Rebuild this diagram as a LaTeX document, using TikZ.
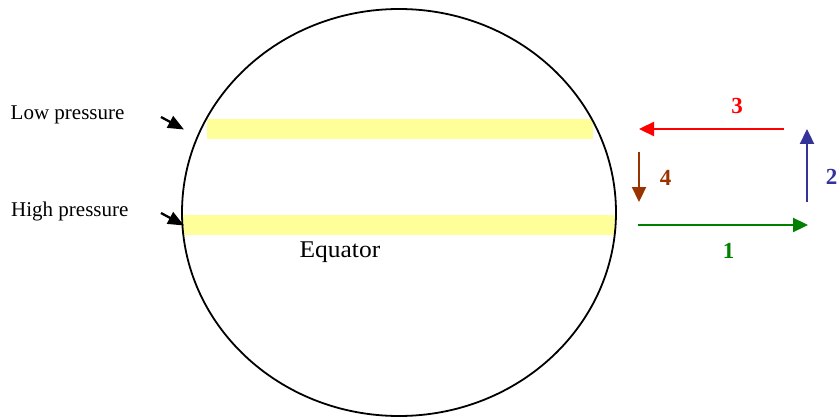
\documentclass[tikz,border=0pt]{standalone}
\usepackage{fontspec}
\setmainfont{Liberation Serif}
\usetikzlibrary{arrows.meta,shapes.geometric}
\definecolor{bandyellow}{RGB}{255,255,153}
\definecolor{cred}{RGB}{255,0,0}
\definecolor{cblue}{RGB}{51,51,153}
\definecolor{cbrown}{RGB}{153,51,0}
\definecolor{cgreen}{RGB}{0,128,0}
\tikzset{
  band/.style={fill=bandyellow,draw=none},
  flow/.style={line width=2.3pt,-{Triangle[length=15pt,width=14pt]}},
  pointer/.style={line width=2.3pt,-{Triangle[length=16pt,width=13pt]}},
  lbl/.style={inner sep=0pt,anchor=base west,font=\fontsize{21}{21}\selectfont},
  num/.style={inner sep=0pt,font=\bfseries\fontsize{23}{23}\selectfont}
}
\begin{document}
\begin{tikzpicture}[x=1pt,y=-1pt]
\useasboundingbox (0,0) rectangle (838,417);
% bands
\fill[band] (207,119) rectangle (593,139);
\fill[band] (183,215) rectangle (615,235);
% globe
\node[draw,line width=1.8pt,ellipse,minimum width=434pt,minimum height=407pt,inner sep=0pt] (globe) at (399,212.5) {};
% labels
\node[lbl] (low) at (10.5,120) {Low pressure};
\node[lbl] (high) at (11,216.5) {High pressure};
\node[inner sep=0pt,anchor=base west,font=\fontsize{24}{24}\selectfont] (eq) at (299.5,257) {\scalebox{1.06}[1]{Equator}};
% pointers
\coordinate (lowA) at (161,117);
\coordinate (lowB) at (184,129.5);
\coordinate (highA) at (161,213);
\coordinate (highB) at (184,225.5);
\draw[pointer] (lowA) -- (lowB);
\draw[pointer] (highA) -- (highB);
% circulation
\coordinate (g1) at (638,225);
\coordinate (g2) at (808,225);
\coordinate (b1) at (807,202);
\coordinate (b2) at (807,129);
\coordinate (r1) at (784,129);
\coordinate (r2) at (639,129);
\coordinate (o1) at (639,152);
\coordinate (o2) at (639,202);
\draw[flow,cgreen] (g1) -- (g2);
\draw[flow,cblue] (b1) -- (b2);
\draw[flow,cred] (r1) -- (r2);
\draw[flow,cbrown] (o1) -- (o2);
\node[num,text=cgreen] (n1) at (728.5,251) {1};
\node[num,text=cblue] (n2) at (831.5,177) {2};
\node[num,text=cred] (n3) at (737,106) {3};
\node[num,text=cbrown] (n4) at (665.5,178) {4};
\end{tikzpicture}
\end{document}
